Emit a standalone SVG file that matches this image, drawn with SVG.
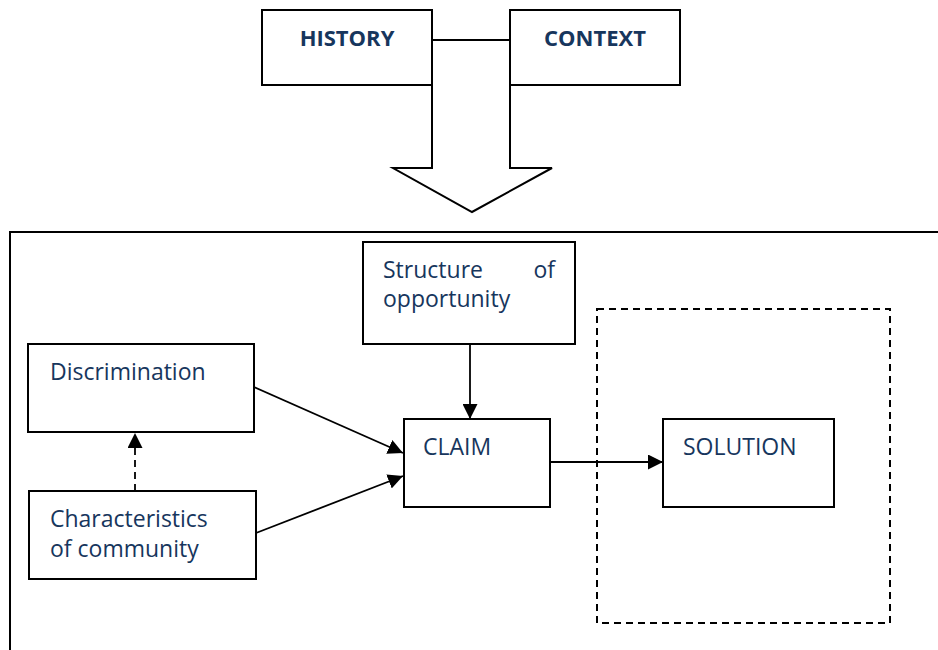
<svg xmlns="http://www.w3.org/2000/svg" width="938" height="650" viewBox="0 0 938 650">
  <style>
    .box { fill: #ffffff; stroke: #000000; stroke-width: 2; }
    .frame { fill: none; stroke: #000000; stroke-width: 2; }
    .link { fill: none; stroke: #000000; stroke-width: 1.8; }
    .dash { stroke-dasharray: 7 5; }
    .lbl { font-family: "Open Sans", "Liberation Sans", sans-serif; font-size: 23px; fill: #17365d; }
    .head { font-family: "Open Sans", "Liberation Sans", sans-serif; font-size: 22px; font-weight: bold; fill: #17365d; text-anchor: middle; }
  </style>
  <defs>
    <marker id="arrow" viewBox="0 0 10 10" refX="10" refY="5" markerWidth="15" markerHeight="15" markerUnits="userSpaceOnUse" orient="auto">
      <path d="M0,0 L10,5 L0,10 Z" fill="#000000"/>
    </marker>
  </defs>

  <!-- block arrow from the two top boxes down into the frame -->
  <g id="big-arrow">
    <polygon points="432,40 510,40 510,168 552,168 472,212 393,168 432,168" fill="#ffffff" stroke="#000000" stroke-width="2"/>
  </g>

  <g id="history">
    <rect class="box" x="262" y="10" width="170" height="75"/>
    <text class="head" x="347" y="46">HISTORY</text>
  </g>
  <g id="context">
    <rect class="box" x="510" y="10" width="170" height="75"/>
    <text class="head" x="595" y="46">CONTEXT</text>
  </g>

  <!-- open frame: top and left sides only -->
  <g id="frame">
    <path class="frame" d="M938,232 L10,232 L10,650"/>
  </g>

  <!-- dashed solution area -->
  <g id="solution-area">
    <rect x="597" y="309" width="293" height="314" fill="none" stroke="#000000" stroke-width="2" class="dash"/>
  </g>

  <g id="connectors">
    <line class="link" x1="470" y1="344" x2="470" y2="419" marker-end="url(#arrow)"/>
    <line class="link" x1="254" y1="387" x2="403" y2="453" marker-end="url(#arrow)"/>
    <line class="link" x1="256" y1="533" x2="403" y2="476" marker-end="url(#arrow)"/>
    <line class="link dash" x1="135" y1="491" x2="135" y2="433" marker-end="url(#arrow)"/>
    <line class="link" x1="550" y1="462" x2="663" y2="462" marker-end="url(#arrow)"/>
  </g>

  <g id="structure">
    <rect class="box" x="363" y="242" width="212" height="102"/>
    <text class="lbl" x="383" y="278">Structure</text>
    <text class="lbl" x="555" y="278" text-anchor="end">of</text>
    <text class="lbl" x="383" y="307">opportunity</text>
  </g>
  <g id="discrimination">
    <rect class="box" x="28" y="344" width="226" height="88"/>
    <text class="lbl" x="50" y="380">Discrimination</text>
  </g>
  <g id="characteristics">
    <rect class="box" x="29" y="491" width="227" height="88"/>
    <text class="lbl" x="50" y="527">Characteristics</text>
    <text class="lbl" x="50" y="557">of community</text>
  </g>
  <g id="claim">
    <rect class="box" x="404" y="419" width="146" height="88"/>
    <text class="lbl" x="423" y="455">CLAIM</text>
  </g>
  <g id="solution">
    <rect class="box" x="663" y="419" width="171" height="88"/>
    <text class="lbl" x="683" y="455">SOLUTION</text>
  </g>
</svg>
